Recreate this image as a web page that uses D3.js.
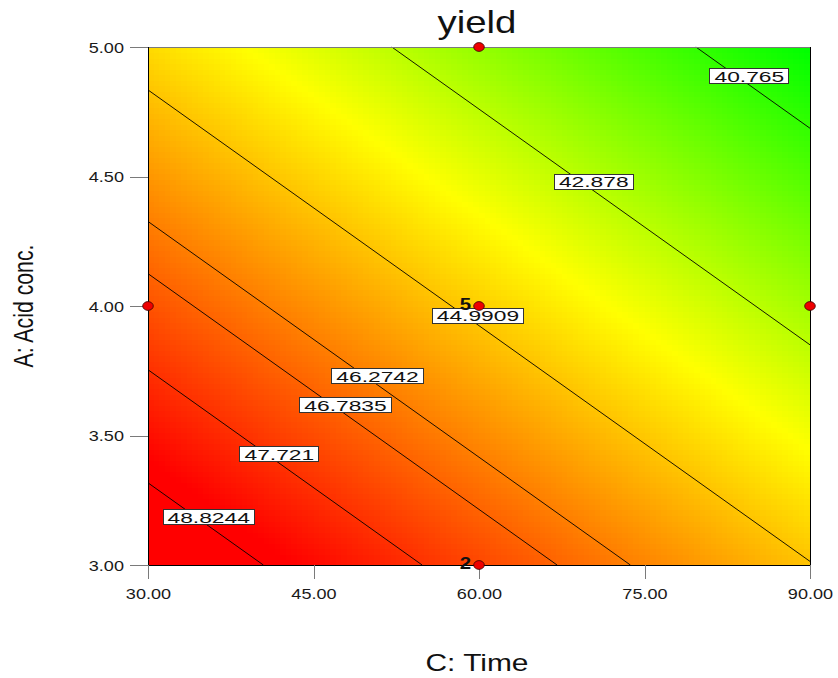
<!DOCTYPE html>
<html>
<head>
<meta charset="utf-8">
<script src="https://cdn.jsdelivr.net/npm/d3@7"></script>
<style>
  html, body { margin: 0; padding: 0; background: #fff; }
  svg { display: block; font-family: "Liberation Sans", Arial, sans-serif; }
</style>
</head>
<body>
<svg id="chart" width="838" height="678"></svg>
<script>
// Axis ticks
const timeTicks = [30, 45, 60, 75, 90];
const acidTicks = [3.0, 3.5, 4.0, 4.5, 5.0];

// Fitted linear model in coded units: yield = b0 + bA*A + bC*C
const modelTerms = ["Intercept", "A", "C"];
const modelCoef = [44.799, -2.527, -2.300];

// Contour levels and where along Time each level's label sits
const contourLevels = [40.765, 42.878, 44.9909, 46.2742, 46.7835, 47.721, 48.8244];
const contourLabelTime = [84.5, 70.4, 59.9, 50.8, 47.9, 41.9, 35.5];

// Design points (Time, Acid conc., replicate count)
const designTime = [30, 60, 60, 90, 60];
const designAcid = [4, 5, 4, 4, 3];
const designCount = [1, 1, 5, 1, 2];

const svg = d3.select("#chart");
const x = d3.scaleLinear().domain([30, 90]).range([148, 810]);
const y = d3.scaleLinear().domain([3, 5]).range([565, 47]);

const codeA = a => (a - 4) / 1;
const codeC = c => (c - 60) / 30;
const predict = (a, c) => modelCoef[0] + modelCoef[1] * codeA(a) + modelCoef[2] * codeC(c);
// Acid conc. on a contour of the given level at time c
const acidOn = (level, c) => 4 + (level - modelCoef[0] - modelCoef[2] * codeC(c)) / modelCoef[1];

const color = d3.scaleLinear()
  .domain([40, 43.9, 48.6])
  .range(["#00ff00", "#ffff00", "#ff0000"])
  .clamp(true);

// Response surface as a grid of coloured cells
const nx = 120, ny = 94;
const cells = [];
for (let i = 0; i < nx; i++) {
  for (let j = 0; j < ny; j++) {
    const c0 = 30 + i * 60 / nx, c1 = 30 + (i + 1) * 60 / nx;
    const a0 = 3 + j * 2 / ny, a1 = 3 + (j + 1) * 2 / ny;
    cells.push({ c0, c1, a0, a1, v: predict((a0 + a1) / 2, (c0 + c1) / 2) });
  }
}
svg.append("g").attr("shape-rendering", "crispEdges")
  .selectAll("rect").data(cells).join("rect")
  .attr("x", d => x(d.c0))
  .attr("y", d => y(d.a1))
  .attr("width", d => x(d.c1) - x(d.c0) + 0.6)
  .attr("height", d => y(d.a0) - y(d.a1) + 0.6)
  .attr("fill", d => color(d.v));

// Contour lines clipped to the design space
const line = d3.line().x(d => x(d[0])).y(d => y(d[1]));
const segs = contourLevels.map(level => {
  const cAt = a => 60 + 30 * (level - modelCoef[0] - modelCoef[1] * codeA(a)) / modelCoef[2];
  const cs = [cAt(3), cAt(5)];
  const lo = Math.max(30, d3.min(cs)), hi = Math.min(90, d3.max(cs));
  return [[lo, acidOn(level, lo)], [hi, acidOn(level, hi)]];
});
svg.append("g").selectAll("path").data(segs).join("path")
  .attr("d", line)
  .attr("fill", "none")
  .attr("stroke", "#000")
  .attr("stroke-width", 0.9);

// Frame
const fr = svg.append("g").attr("fill", "none").attr("shape-rendering", "crispEdges");
fr.append("line").attr("x1", x(30)).attr("x2", x(90)).attr("y1", y(5)).attr("y2", y(5)).attr("stroke", "#7a7a7a");
fr.append("line").attr("x1", x(30)).attr("x2", x(90)).attr("y1", y(3)).attr("y2", y(3)).attr("stroke", "#000");
fr.append("line").attr("x1", x(30)).attr("x2", x(30)).attr("y1", y(3)).attr("y2", y(5)).attr("stroke", "#000");
fr.append("line").attr("x1", x(90)).attr("x2", x(90)).attr("y1", y(3)).attr("y2", y(5)).attr("stroke", "#000");

// Axes
const fmt = d3.format(".2f");
const yAxis = svg.append("g").attr("transform", `translate(${x(30)},0)`)
  .call(d3.axisLeft(y).tickValues(acidTicks).tickFormat(fmt).tickSize(18).tickPadding(6));
const xAxis = svg.append("g").attr("transform", `translate(0,${y(3)})`)
  .call(d3.axisBottom(x).tickValues(timeTicks).tickFormat(fmt).tickSize(14).tickPadding(9));
[yAxis, xAxis].forEach(g => {
  g.select(".domain").remove();
  g.selectAll(".tick line").attr("stroke", "#7a7a7a").attr("shape-rendering", "crispEdges");
  g.selectAll(".tick text").attr("fill", "#1a1a1a").style("font-size", "14.6px")
    .attr("font-family", null);
});
yAxis.selectAll(".tick text").each(function () {
  const t = d3.select(this);
  const tx = +t.attr("x");
  t.attr("x", 0).attr("dy", null).attr("y", 5.3)
    .attr("transform", `translate(${tx},0) scale(1.24,1)`);
});
xAxis.selectAll(".tick text").each(function () {
  const t = d3.select(this);
  t.attr("dy", null).attr("y", 0)
    .attr("transform", `translate(0,33.7) scale(1.24,1)`);
});

// Contour labels
const lab = svg.append("g");
contourLevels.forEach((level, i) => {
  const c = contourLabelTime[i];
  const cx = x(c), cy = y(acidOn(level, c)) - 9.3;
  const g = lab.append("g").attr("transform", `translate(${cx},${cy})`);
  const box = g.append("rect");
  const t = g.append("text")
    .attr("text-anchor", "middle")
    .attr("y", 5.9)
    .attr("transform", "scale(1.48,1)")
    .style("font-size", "15.4px")
    .attr("fill", "#111")
    .text(String(level));
  const w = t.node().getComputedTextLength() * 1.48 + 9;
  box.attr("x", -w / 2).attr("y", -7.5).attr("width", w).attr("height", 15)
    .attr("fill", "#fff").attr("stroke", "#333").attr("stroke-width", 1)
    .attr("shape-rendering", "crispEdges");
});

// Design points
const pts = designTime.map((t, i) => ({ t, a: designAcid[i], n: designCount[i] }));
svg.append("g").selectAll("ellipse").data(pts).join("ellipse")
  .attr("cx", d => x(d.t)).attr("cy", d => y(d.a))
  .attr("rx", 5.3).attr("ry", 4.4)
  .attr("fill", "#ee0000").attr("stroke", "#3a0000").attr("stroke-width", 0.8);
svg.append("g").selectAll("text").data(pts.filter(d => d.n > 1)).join("text")
  .attr("transform", d => `translate(${x(d.t) - 8},${y(d.a) + 4}) scale(1.2,1)`)
  .attr("text-anchor", "end")
  .style("font-size", "17px").style("font-weight", "bold")
  .attr("fill", "#111")
  .text(d => d.n);

// Title and axis titles
svg.append("text")
  .attr("transform", `translate(${(x(30) + x(90)) / 2 - 2},33.3) scale(1.2,1)`)
  .attr("text-anchor", "middle").style("font-size", "32px").attr("fill", "#111")
  .text("yield");
svg.append("text")
  .attr("transform", `translate(${(x(30) + x(90)) / 2 - 2},670.5) scale(1.3,1)`)
  .attr("text-anchor", "middle").style("font-size", "23px").attr("fill", "#111")
  .text("C: Time");
svg.append("text")
  .attr("transform", `translate(33,${y(4)}) rotate(-90) scale(0.76,1)`)
  .attr("text-anchor", "middle").style("font-size", "28px").attr("fill", "#111")
  .text("A: Acid conc.");
</script>
</body>
</html>
